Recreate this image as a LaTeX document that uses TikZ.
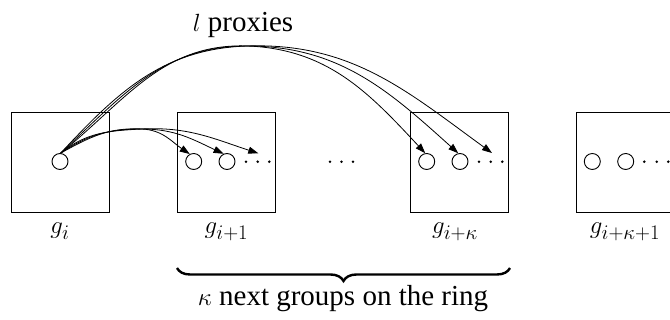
\documentclass[tikz,border=0pt]{standalone}
\usepackage{fontspec}
\setmainfont{Liberation Serif}
\usetikzlibrary{arrows.meta,decorations.pathreplacing}
\begin{document}
\begin{tikzpicture}[x=1pt,y=-1pt,
  grp/.style={draw,line width=0.9pt,minimum width=98pt,minimum height=100pt,inner sep=0pt},
  proc/.style={draw,circle,line width=0.9pt,minimum size=16pt,inner sep=0pt},
  dotm/.style={fill,circle,inner sep=0pt,minimum size=2.8pt},
  lbl/.style={anchor=base,inner sep=0pt,font=\fontsize{29}{34}\selectfont},
  link/.style={line width=0.8pt,-{Triangle[length=10pt,width=7pt]}}]
\useasboundingbox (0,0) rectangle (670,320);
% group boxes
\node[grp] (b1) at (60,162) {};
\node[grp] (b2) at (226.5,162) {};
\node[grp] (b3) at (459.8,162) {};
\node[grp,minimum width=99pt] (b4) at (626.2,162) {};
% processes
\node[proc] (c1) at (60,161.5) {};
\node[proc] (c2) at (193.7,161.5) {};
\node[proc] (c3) at (227,161.5) {};
\node[proc] (c4) at (426.7,161.5) {};
\node[proc] (c5) at (460,161.5) {};
\node[proc] (c6) at (592.3,161.5) {};
\node[proc] (c7) at (625.7,161.5) {};
% dots
\foreach \x [count=\k] in {246,257.7,269.3,330,341.5,353,479,490.7,502.3,644.3,656.7,668.3}
  \node[dotm] (d\k) at (\x,161.7) {};
% labels
\node[lbl] (l1) at (60,234) {$g_i$};
\node[lbl] (l2) at (226.5,234) {$g_{i+1}$};
\node[lbl] (l3) at (455,234) {$g_{i+\kappa}$};
\node[lbl] (l4) at (625,234) {$g_{i+\kappa+1}$};
\node[lbl] (tp) at (243,32) {$l$ proxies};
\node[lbl] (tk) at (343,306) {$\kappa$ next groups on the ring};
% brace
\coordinate (bl) at (177,268);
\coordinate (br) at (510,268);
\draw[line width=2.4pt,decorate,decoration={brace,amplitude=13pt,mirror}] (bl) -- (br);
% convergence points and free ends
\coordinate (s) at (c1.85);
\coordinate (m1) at (142,129);
\coordinate (m2) at (247,46);
\coordinate (t3) at (258.3,153.3);
\coordinate (t6) at (492,153);
\draw[link] (s) to[out=39,in=183] (m1) to[out=-3,in=146] (c2.118);
\draw[link] (s) to[out=34,in=180] (m1) to[out=0,in=155] (c3.114);
\draw[link] (s) to[out=29,in=177] (m1) to[out=3,in=162] (t3);
\draw[link] (s) to[out=47,in=182] (m2) to[out=-2,in=133] (c4.100);
\draw[link] (s) to[out=43,in=180] (m2) to[out=0,in=138] (c5.102);
\draw[link] (s) to[out=39,in=178] (m2) to[out=2,in=144] (t6);
\end{tikzpicture}
\end{document}
